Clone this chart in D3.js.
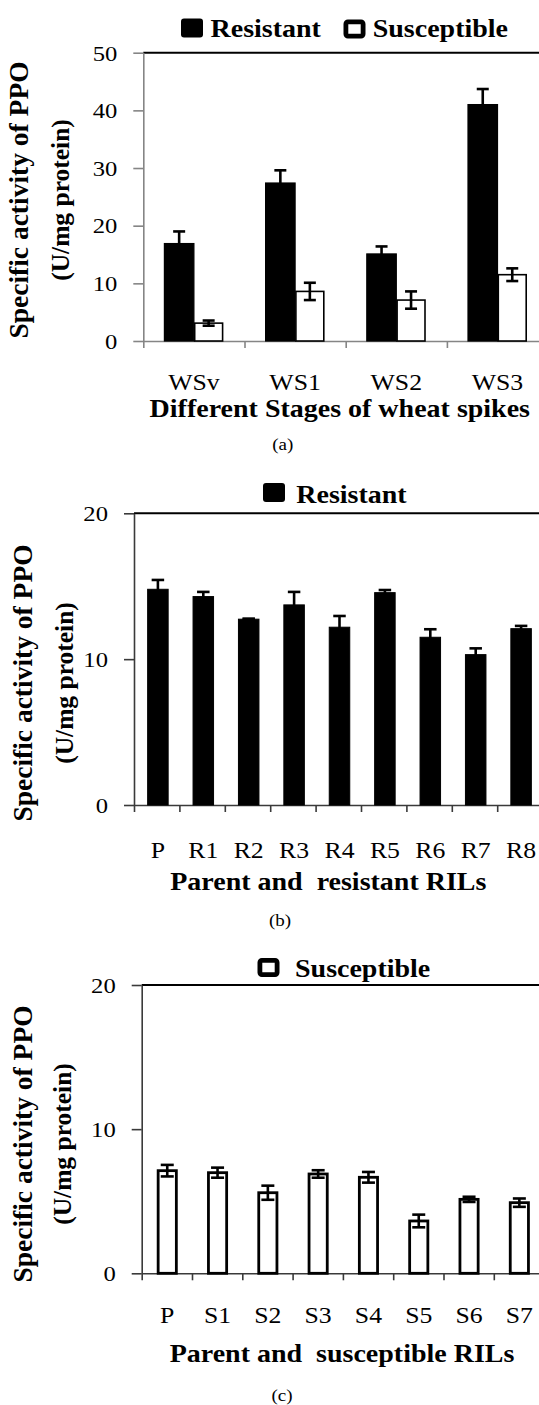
<!DOCTYPE html>
<html>
<head>
<meta charset="utf-8">
<script src="https://cdn.jsdelivr.net/npm/d3@7"></script>
<style>
  html, body { margin: 0; padding: 0; background: #fff; }
  svg { display: block; }
  text { font-family: 'Liberation Serif', 'Times New Roman', Times, serif; fill: #000; white-space: pre; }
</style>
</head>
<body>
<svg id="chart" width="539" height="1405"></svg>
<script>
// ---------- DATA ----------
const catsA = ["WSv", "WS1", "WS2", "WS3"];
const resistantA = [16.9, 27.4, 15.1, 41.0];
const resistantErrA = [2.1, 2.2, 1.3, 2.7];
const susceptibleA = [3.1, 8.6, 7.1, 11.5];
const susceptibleErrA = [0.45, 1.5, 1.5, 1.1];
const ticksA = [0, 10, 20, 30, 40, 50];

const catsB = ["P", "R1", "R2", "R3", "R4", "R5", "R6", "R7", "R8"];
const resistantB = [14.79, 14.29, 12.74, 13.72, 12.19, 14.56, 11.5, 10.31, 12.09];
const resistantErrB = [0.64, 0.32, 0.04, 0.89, 0.77, 0.18, 0.55, 0.43, 0.19];
const ticksB = [0, 10, 20];

const catsC = ["P", "S1", "S2", "S3", "S4", "S5", "S6", "S7"];
const susceptibleC = [7.12, 6.98, 5.59, 6.89, 6.66, 3.63, 5.13, 4.9];
const susceptibleErrC = [0.4, 0.35, 0.49, 0.26, 0.37, 0.44, 0.18, 0.29];
const ticksC = [0, 10, 20];

const yTitle1 = "Specific activity of PPO";
const yTitle2 = "(U/mg protein)";

// ---------- LAYOUT ----------
const SX = 1.12;   // horizontal stretch of the original figure's lettering
const svg = d3.select("#chart");

function htext(g, x, y, str, size, weight, anchor) {
  return g.append("text")
    .attr("transform", `translate(${x},${y}) scale(${SX},1)`)
    .attr("text-anchor", anchor || "start")
    .style("font-size", size + "px")
    .style("font-weight", weight || "normal")
    .text(str);
}

function legendSwatch(g, x, y, filled) {
  if (filled) {
    g.append("rect").attr("x", x).attr("y", y).attr("width", 22).attr("height", 19)
      .attr("rx", 3).attr("fill", "#000");
  } else {
    g.append("rect").attr("x", x + 2.4).attr("y", y + 2.4).attr("width", 17.2).attr("height", 14.2)
      .attr("rx", 2).attr("fill", "#fff").attr("stroke", "#000").attr("stroke-width", 4.8);
  }
}

function drawPanel(p) {
  const g = svg.append("g");
  const y = d3.scaleLinear().domain([0, p.ymax]).range([p.y0, p.y1]);
  const n = p.cats.length;
  const xb = d3.scaleBand().domain(p.cats).range([p.x0, p.x0 + n * p.band]);
  const xi = d3.scaleLinear().domain([0, n]).range([p.x0, p.x0 + n * p.band]);
  const sub = d3.scaleBand().domain(d3.range(p.series.length))
    .range([-p.barW * p.series.length / 2, p.barW * p.series.length / 2]);

  // top frame line
  g.append("line").attr("x1", p.x0).attr("x2", 539).attr("y1", y(p.ymax)).attr("y2", y(p.ymax))
    .attr("stroke", "#000").attr("stroke-width", 2);

  // y axis (lines only)
  const ya = g.append("g").attr("transform", `translate(${p.x0},0)`)
    .call(d3.axisLeft(y).tickValues(p.ticks).tickSize(10).tickSizeOuter(0).tickFormat(""));
  ya.selectAll("path, line").attr("stroke", p.axisColor).attr("stroke-width", 1.6);

  // x axis with boundary ticks
  const xa = g.append("g").attr("transform", `translate(0,${p.y0})`)
    .call(d3.axisBottom(xi).tickValues(d3.range(n + 1)).tickSize(7).tickSizeOuter(0).tickFormat(""));
  xa.selectAll("path, line").attr("stroke", p.axisColor).attr("stroke-width", 1.6);

  // bars
  p.series.forEach((s, si) => {
    const cx = c => xb(c) + xb.bandwidth() / 2 + p.shift + sub(si);
    g.selectAll(null).data(p.cats).enter().append("rect")
      .attr("x", c => cx(c) + s.inset)
      .attr("width", sub.bandwidth() - 2 * s.inset)
      .attr("y", (c, i) => y(s.vals[i]))
      .attr("height", (c, i) => y(0) - y(s.vals[i]))
      .attr("fill", s.fill).attr("stroke", "#000").attr("stroke-width", s.stroke);
    // error bars
    const ex = c => cx(c) + sub.bandwidth() / 2;
    g.selectAll(null).data(p.cats).enter().append("line")
      .attr("x1", ex).attr("x2", ex)
      .attr("y1", (c, i) => y(s.vals[i] + s.err[i])).attr("y2", (c, i) => y(s.vals[i] - s.err[i]))
      .attr("stroke", "#000").attr("stroke-width", 2.6);
    [1, -1].forEach(sign => {
      g.selectAll(null).data(p.cats).enter().append("line")
        .attr("x1", c => ex(c) - p.cap / 2).attr("x2", c => ex(c) + p.cap / 2)
        .attr("y1", (c, i) => y(s.vals[i] + sign * s.err[i])).attr("y2", (c, i) => y(s.vals[i] + sign * s.err[i]))
        .attr("stroke", "#000").attr("stroke-width", 2.6);
    });
  });

  // y tick labels
  p.ticks.forEach(t => {
    htext(g, p.x0 - 26, y(t) + 7.8, String(t), 22, "normal", "end");
  });
  // x category labels
  p.cats.forEach(c => {
    htext(g, xb(c) + xb.bandwidth() / 2 + p.shift, p.labelY, c, 23, "normal", "middle");
  });
  // x title
  htext(g, p.titleX, p.titleY, p.xTitle, 25, "bold", "middle");
  // panel letter
  htext(g, p.letterX, p.letterY, p.letter, 17, "normal", "middle");

  // y title (rotated)
  g.append("text").attr("transform", `translate(${p.yt1},${p.ytc}) rotate(-90)`)
    .attr("text-anchor", "middle").style("font-size", "27.5px").style("font-weight", "bold").text(yTitle1);
  g.append("text").attr("transform", `translate(${p.yt2},${p.ytc}) rotate(-90)`)
    .attr("text-anchor", "middle").style("font-size", "25.5px").style("font-weight", "bold").text(yTitle2);

  // legend
  p.legend.forEach(l => {
    legendSwatch(g, l.sx, l.sy, l.filled);
    htext(g, l.tx, l.ty, l.label, 25, "bold", "start");
  });
}

drawPanel({
  cats: catsA, ticks: ticksA, ymax: 50,
  series: [
    { vals: resistantA, err: resistantErrA, fill: "#000", stroke: 1.2, inset: 0 },
    { vals: susceptibleA, err: susceptibleErrA, fill: "#fff", stroke: 1.6, inset: 0.8 }
  ],
  x0: 143.3, band: 101.2, y0: 341, y1: 52.7, barW: 29.5, shift: 0, cap: 12,
  axisColor: "#858585",
  labelY: 389.5, xTitle: "Different Stages of wheat spikes", titleX: 339.8, titleY: 417,
  letter: "(a)", letterX: 282.7, letterY: 450,
  yt1: 28, yt2: 69, ytc: 200,
  legend: [
    { filled: true, sx: 181, sy: 18.5, tx: 210.5, ty: 36.7, label: "Resistant" },
    { filled: false, sx: 343.5, sy: 19.5, tx: 372.7, ty: 36.7, label: "Susceptible" }
  ]
});

drawPanel({
  cats: catsB, ticks: ticksB, ymax: 20,
  series: [
    { vals: resistantB, err: resistantErrB, fill: "#000", stroke: 1, inset: 0 }
  ],
  x0: 134, band: 45.4, y0: 805, y1: 513.3, barW: 20.5, shift: 1.2, cap: 12.5,
  axisColor: "#3a3a3a",
  labelY: 858, xTitle: "Parent and  resistant RILs", titleX: 328.3, titleY: 890,
  letter: "(b)", letterX: 280, letterY: 926,
  yt1: 32.2, yt2: 73, ytc: 683,
  legend: [
    { filled: true, sx: 263, sy: 483, tx: 296.3, ty: 503, label: "Resistant" }
  ]
});

drawPanel({
  cats: catsC, ticks: ticksC, ymax: 20,
  series: [
    { vals: susceptibleC, err: susceptibleErrC, fill: "#fff", stroke: 2.8, inset: 1.4 }
  ],
  x0: 141.7, band: 50.3, y0: 1273.3, y1: 985, barW: 21, shift: 0.4, cap: 13,
  axisColor: "#3a3a3a",
  labelY: 1323, xTitle: "Parent and  susceptible RILs", titleX: 342, titleY: 1362,
  letter: "(c)", letterX: 282, letterY: 1401,
  yt1: 32.2, yt2: 71, ytc: 1144,
  legend: [
    { filled: false, sx: 257.5, sy: 958, tx: 295, ty: 976.7, label: "Susceptible" }
  ]
});
</script>
</body>
</html>
